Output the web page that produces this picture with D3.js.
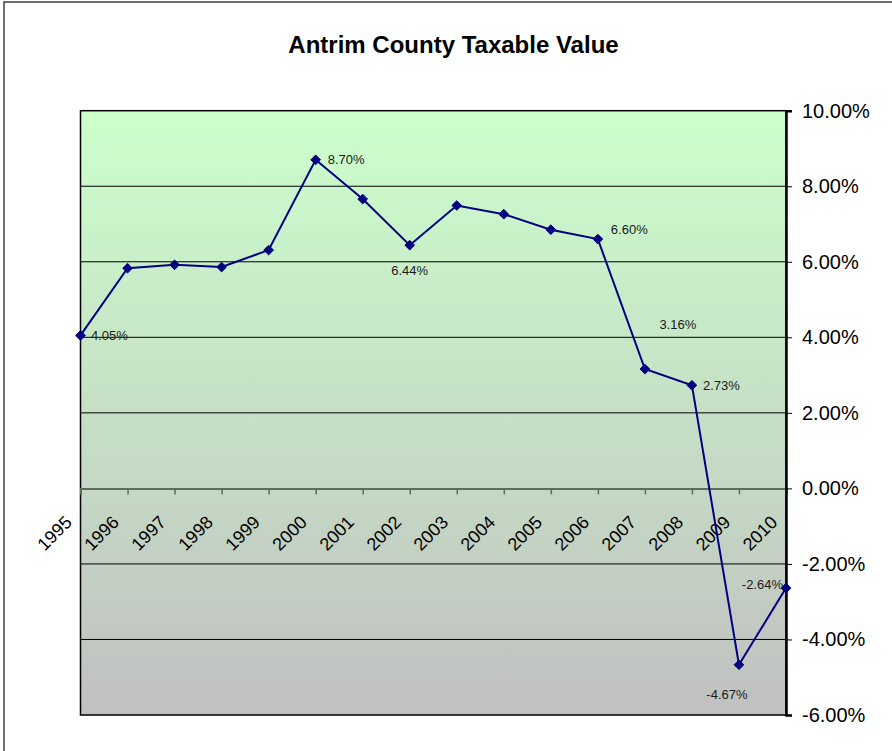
<!DOCTYPE html>
<html>
<head>
<meta charset="utf-8">
<script src="https://cdn.jsdelivr.net/npm/d3@7"></script>
<style>
  html, body { margin: 0; padding: 0; background: #fff; }
  svg { display: block; font-family: Arial, "Liberation Sans", sans-serif; }
</style>
</head>
<body>
<svg id="chart" width="892" height="751"></svg>
<script>
// ---- data ----
const years = ["1995","1996","1997","1998","1999","2000","2001","2002","2003","2004","2005","2006","2007","2008","2009","2010"];
const values = [4.05, 5.83, 5.92, 5.86, 6.31, 8.70, 7.66, 6.44, 7.49, 7.26, 6.85, 6.60, 3.16, 2.73, -4.67, -2.64];
const yTicks = [10, 8, 6, 4, 2, 0, -2, -4, -6];
const labeledYears = ["1995","2000","2002","2006","2007","2008","2009","2010"];
const titleText = "Antrim County Taxable Value";

// ---- label placement (layout, not data) ----
const labelPlacement = {
  "1995": {dx: 10.5, dy: 0, anchor: "start"},
  "2000": {dx: 12, dy: 0, anchor: "start"},
  "2002": {dx: 0, dy: 25, anchor: "middle"},
  "2006": {dx: 13, dy: -10, anchor: "start"},
  "2007": {dx: 33, dy: -45, anchor: "middle"},
  "2008": {dx: 11, dy: 0, anchor: "start"},
  "2009": {dx: -12, dy: 30, anchor: "middle"},
  "2010": {dx: -3, dy: -3.5, anchor: "end"}
};

const pct = v => d3.format(".2f")(v).replace("\u2212", "-") + "%";

const svg = d3.select("#chart");
const plot = {left: 80.5, right: 786, top: 110.7, bottom: 715};

// outer frame
svg.append("rect")
  .attr("x", 4).attr("y", 2).attr("width", 950).attr("height", 850)
  .attr("fill", "#fff").attr("stroke", "#404040").attr("stroke-width", 1.5);

// title
svg.append("text")
  .attr("x", 453.5).attr("y", 53)
  .attr("text-anchor", "middle")
  .attr("font-size", 24).attr("font-weight", "bold")
  .attr("fill", "#000")
  .text(titleText);

const x = d3.scalePoint().domain(years).range([plot.left, plot.right]);
const y = d3.scaleLinear().domain([-6, 10]).range([plot.bottom, plot.top]);

// gradient background
const defs = svg.append("defs");
const grad = defs.append("linearGradient").attr("id", "bg")
  .attr("x1", 0).attr("y1", 0).attr("x2", 0).attr("y2", 1);
grad.append("stop").attr("offset", "0%").attr("stop-color", "#CCFFCC");
grad.append("stop").attr("offset", "100%").attr("stop-color", "#C0C0C0");

svg.append("rect")
  .attr("x", plot.left).attr("y", plot.top)
  .attr("width", plot.right - plot.left).attr("height", plot.bottom - plot.top)
  .attr("fill", "url(#bg)");

// gridlines
svg.append("g").selectAll("line")
  .data(yTicks.filter(d => d !== 0 && d !== 10 && d !== -6))
  .join("line")
  .attr("x1", plot.left).attr("x2", plot.right)
  .attr("y1", d => y(d)).attr("y2", d => y(d))
  .attr("stroke", "#000").attr("stroke-width", 1);

// plot border
svg.append("rect")
  .attr("x", plot.left).attr("y", plot.top)
  .attr("width", plot.right - plot.left).attr("height", plot.bottom - plot.top)
  .attr("fill", "none").attr("stroke", "#000").attr("stroke-width", 1.5);

// x axis at zero
const xAxis = d3.axisBottom(x).tickSize(6).tickFormat("");
const gx = svg.append("g").attr("transform", `translate(0,${y(0)})`).call(xAxis);
gx.select(".domain").attr("stroke", "#5f6b5f").attr("stroke-width", 2);
gx.selectAll(".tick line").attr("stroke", "#5f6b5f").attr("stroke-width", 1.5);

// x labels rotated
svg.append("g").selectAll("text")
  .data(years)
  .join("text")
  .attr("transform", d => `translate(${x(d) - 7.5},${y(0) + 35}) rotate(-45)`)
  .attr("text-anchor", "end")
  .attr("font-size", 18)
  .attr("fill", "#000")
  .text(d => d);

// y axis on right
const yAxis = d3.axisRight(y).tickValues(yTicks).tickSize(6).tickFormat(pct);
const gy = svg.append("g").attr("transform", `translate(${plot.right},0)`).call(yAxis);
gy.select(".domain").attr("stroke", "#000").attr("stroke-width", 2.5);
gy.selectAll(".tick line").attr("stroke", "#000").attr("stroke-width", 1);
gy.selectAll(".tick text")
  .attr("x", 16).attr("font-size", 20).attr("fill", "#000")
  .attr("font-family", "Arial, 'Liberation Sans', sans-serif");

// line
const pts = years.map((yr, i) => ({year: yr, value: values[i]}));
svg.append("path")
  .datum(pts)
  .attr("fill", "none")
  .attr("stroke", "#000080")
  .attr("stroke-width", 2)
  .attr("d", d3.line().x(d => x(d.year)).y(d => y(d.value)));

// markers
svg.append("g").selectAll("path")
  .data(pts)
  .join("path")
  .attr("transform", d => `translate(${x(d.year)},${y(d.value)})`)
  .attr("d", d3.symbol(d3.symbolDiamond2, 60)())
  .attr("fill", "#000080")
  .attr("stroke", "#000080").attr("stroke-width", 1);

// data labels
svg.append("g").selectAll("text")
  .data(pts.filter(d => labeledYears.includes(d.year)))
  .join("text")
  .attr("x", d => x(d.year) + labelPlacement[d.year].dx)
  .attr("y", d => y(d.value) + labelPlacement[d.year].dy)
  .attr("dy", "0.35em")
  .attr("text-anchor", d => labelPlacement[d.year].anchor)
  .attr("font-size", 13)
  .attr("fill", "#1a1a1a")
  .text(d => pct(d.value));
</script>
</body>
</html>
